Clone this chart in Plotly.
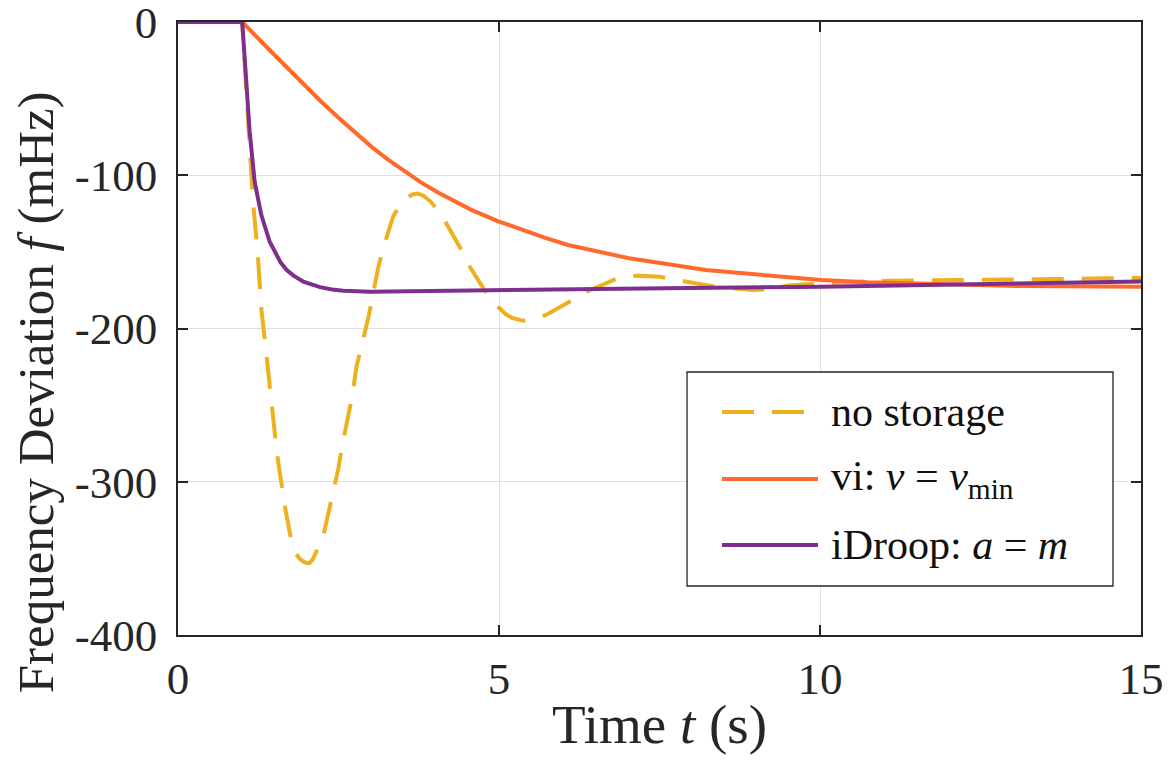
import plotly.graph_objects as go

# ---- data ----
t_nostorage = [0, 1.0, 1.04, 1.08, 1.12, 1.17, 1.24, 1.3, 1.37, 1.46, 1.54, 1.66, 1.75, 1.84,
               1.9, 1.95, 2.0, 2.05, 2.1, 2.15, 2.27, 2.34, 2.5, 2.55, 2.71, 2.78, 2.86, 2.97,
               3.05, 3.12, 3.2, 3.35, 3.45, 3.56, 3.65, 3.74, 3.83, 3.93, 4.05, 4.16, 4.39,
               4.55, 4.76, 4.99, 5.1, 5.2, 5.38, 5.56, 5.74, 5.9, 6.1, 6.41, 6.55, 6.83, 7.15,
               7.5, 7.92, 8.39, 8.95, 9.17, 9.5, 10, 11.04, 11.94, 12.96, 13.74, 14.46, 15]
f_nostorage = [0, 0, -28, -55, -80, -118, -150, -188, -214, -248, -281, -315, -335, -347,
               -350.5, -352, -353, -353, -350.5, -346, -334, -321, -291, -278, -245, -225,
               -212, -192, -175, -160, -147, -127, -120, -115, -112.5, -112, -113.5, -117,
               -123, -130, -147, -160, -174, -186, -190.5, -193, -195, -194, -191, -187,
               -182, -175, -172.7, -167.5, -165.5, -166.2, -169.5, -172.8, -174.9, -174.5,
               -172, -170.5, -168.8, -168.6, -167.9, -167.7, -167.2, -167]

t_vi = [0, 1.0, 1.453, 1.973, 2.232, 2.492, 2.752, 3.011, 3.271, 3.531, 3.79, 4.05, 4.31,
        4.569, 4.98, 5.35, 5.71, 6.075, 7.03, 8.22, 9.42, 10.02, 10.74, 11.94, 13.14, 15]
f_vi = [0, 0, -19.4, -41.5, -52, -62.2, -72, -81.3, -89.8, -97.7, -104.8, -111.3, -117.2,
        -122.6, -129.9, -135.7, -140.7, -145.5, -154.2, -161.8, -166.6, -168.4, -169.9,
        -171.2, -172.3, -172.7]

t_idroop = [0, 1.0, 1.064, 1.116, 1.194, 1.298, 1.428, 1.532, 1.6, 1.693, 1.8, 1.952, 2.08,
            2.212, 2.4, 2.575, 2.99, 4.24, 5.95, 8.3, 10.02, 11.94, 15]
f_idroop = [0, 0, -39, -71.6, -104.2, -126, -143.4, -151.5, -157, -161.8, -165.5, -169.5,
            -171.5, -173, -174.6, -175.3, -176, -175.3, -174.2, -173.4, -172.7, -171.2,
            -169.4]

x_ticks = [0, 5, 10, 15]
y_ticks = [0, -100, -200, -300, -400]
y_ticktext = ["0", "-100", "-200", "-300", "-400"]

series_names = ["no storage",
                "vi: <i>\u03bd</i> = <i>\u03bd</i><sub>min</sub>",
                "iDroop: <i>a</i> = <i>m</i>"]
colors = ["#EDB120", "#FF6A2B", "#7E2F8E"]
dashes = ["32px,18px", "solid", "solid"]

FONT = "Liberation Serif"
TXT = "#262626"

fig = go.Figure()
for tx, fy, nm, col, ds in zip([t_nostorage, t_vi, t_idroop],
                               [f_nostorage, f_vi, f_idroop],
                               series_names, colors, dashes):
    fig.add_trace(go.Scatter(x=tx, y=fy, mode="lines", name=nm,
                             line=dict(color=col, width=4, dash=ds), showlegend=False))

axis_common = dict(showline=True, linecolor=TXT, linewidth=1.5, mirror="ticks",
                   ticks="inside", ticklen=10, tickwidth=1.5, tickcolor=TXT,
                   showgrid=True, gridcolor="#DFDFDF", gridwidth=1.2, zeroline=False,
                   automargin=False, ticklabeloverflow="allow",
                   tickfont=dict(family=FONT, size=45, color=TXT))

# ---- legend box drawn in paper coordinates ----
shapes = [dict(type="rect", xref="paper", yref="paper", x0=0.5286, x1=0.9709,
               y0=0.0799, y1=0.429, line=dict(color=TXT, width=1.3), fillcolor="white",
               layer="above")]
annotations = []
legend_y = [0.3638, 0.2545, 0.1468]
for nm, col, ds, ly in zip(series_names, colors, dashes, legend_y):
    shapes.append(dict(type="line", xref="paper", yref="paper", x0=0.5649, x1=0.6646,
                       y0=ly, y1=ly, line=dict(color=col, width=4, dash=ds), layer="above"))
    annotations.append(dict(text=nm, xref="paper", yref="paper", x=0.676, y=ly,
                            xanchor="left", yanchor="middle", showarrow=False,
                            font=dict(family=FONT, size=42, color="#111111")))

# y-axis title (placed like the reference, slightly below the axis centre)
annotations.append(dict(text="Frequency Deviation <i>f</i> (mHz)", xref="paper", yref="paper",
                        x=-0.1474, y=0.396, xanchor="center", yanchor="middle",
                        textangle=-90, showarrow=False,
                        font=dict(family=FONT, size=51, color=TXT)))

fig.update_layout(
    width=1168, height=761,
    margin=dict(l=178, r=27, t=22, b=126),
    paper_bgcolor="white", plot_bgcolor="white",
    font=dict(family=FONT, color=TXT),
    xaxis=dict(range=[0, 15], tickvals=x_ticks, ticklabelstandoff=3,
               title=dict(text="Time <i>t</i> (s)", font=dict(family=FONT, size=55), standoff=2),
               **axis_common),
    yaxis=dict(range=[-400, 0], tickvals=y_ticks, ticktext=y_ticktext, ticklabelstandoff=10,
               **axis_common),
    shapes=shapes,
    annotations=annotations,
    showlegend=False,
)

fig.write_html("out.html", config={"displayModeBar": False},
               post_script="document.body.style.margin='0px';document.body.style.overflow='hidden';")
